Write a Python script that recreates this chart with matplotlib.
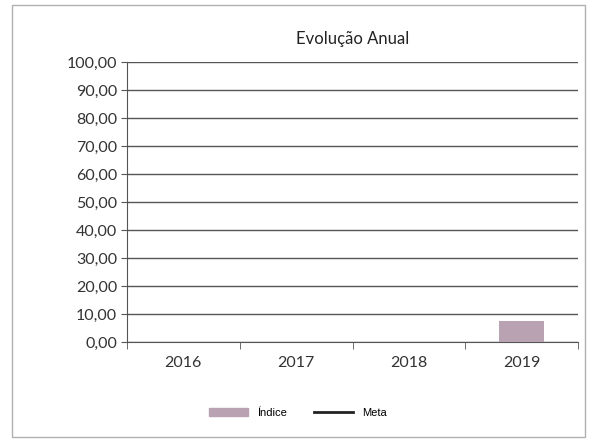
import numpy as np
import matplotlib
matplotlib.use('Agg')
from matplotlib import pyplot as plt
from matplotlib.patches import Rectangle
from matplotlib.lines import Line2D

anos = ['2016', '2017', '2018', '2019']
indice = [np.nan, np.nan, np.nan, 7.5]
meta = [np.nan, np.nan, np.nan, np.nan]
yticks = np.arange(0, 101, 10)

plt.rcParams['font.family'] = ['Lato', 'DejaVu Sans']

fig = plt.figure(figsize=(5.96, 4.43), dpi=100)
# moldura do grafico
fig.patches.append(Rectangle((0.02, 0.013), 0.962, 0.975, transform=fig.transFigure,
                             fill=False, edgecolor='#b0b0b0', linewidth=1))

ax = fig.add_axes([0.213, 0.228, 0.757, 0.632])
x = np.arange(len(anos))
ax.bar(x, indice, width=0.4, color='#b9a3b3', zorder=3)
ax.plot(x, meta, color='#222222', linewidth=2, zorder=4)

ax.set_ylim(0, 100)
ax.set_xlim(-0.5, len(anos) - 0.5)
ax.set_yticks(yticks)
ax.set_yticklabels(['%d,00' % v for v in yticks], fontsize=11.5, color='#333333')
ax.set_xticks(x)
ax.set_xticklabels(anos, fontsize=11.5, color='#333333')
ax.tick_params(axis='x', length=0, pad=10)
ax.tick_params(axis='y', length=4, color='#555555', pad=3)
# ticks entre categorias
ax.set_xticks(np.arange(-0.5, len(anos), 1), minor=True)
ax.tick_params(axis='x', which='minor', length=5, color='#555555')

ax.grid(axis='y', color='#555555', linewidth=1, zorder=0)
for s in ['top', 'right']:
    ax.spines[s].set_visible(False)
ax.spines['left'].set_color('#555555')
ax.spines['bottom'].set_color('#555555')

ax.set_title('Evolução Anual', fontsize=12, color='#222222', pad=13)

handles = [Rectangle((0, 0), 1, 1, color='#b9a3b3'),
           Line2D([0], [0], color='#222222', linewidth=2)]
fig.legend(handles, ['Índice', 'Meta'], loc='center', bbox_to_anchor=(0.5, 0.068),
           ncol=2, frameon=False, handlelength=3.5, columnspacing=2.5,
           prop={'family': ['Liberation Sans', 'DejaVu Sans'], 'size': 8})

fig.savefig('out.png', dpi=100, facecolor='white')
